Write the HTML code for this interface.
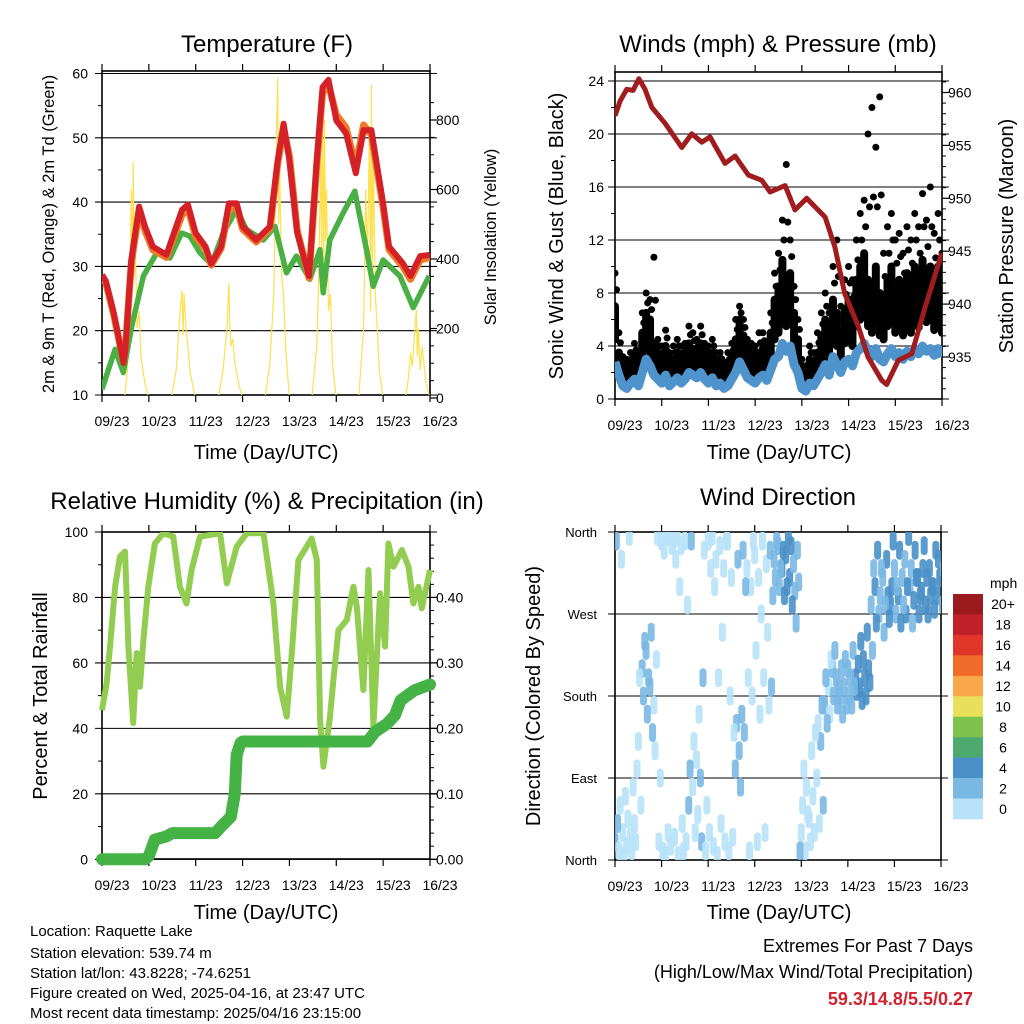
<!DOCTYPE html>
<html><head><meta charset="utf-8"><title>Raquette Lake</title>
<style>
html,body{margin:0;padding:0;background:#fff;}
svg{display:block;font-family:"Liberation Sans",Arial,sans-serif;}
</style></head>
<body>
<svg id="chart" width="1024" height="1024" viewBox="0 0 1024 1024" xmlns="http://www.w3.org/2000/svg">
<rect x="0" y="0" width="1024" height="1024" fill="#fff"/>
<text x="267" y="52" font-size="24" text-anchor="middle">Temperature (F)</text>
<text x="778" y="52" font-size="24" text-anchor="middle">Winds (mph) &amp; Pressure (mb)</text>
<text x="267" y="509" font-size="24" text-anchor="middle">Relative Humidity (%) &amp; Precipitation (in)</text>
<text x="778" y="505" font-size="24" text-anchor="middle">Wind Direction</text>

<text x="266" y="459" font-size="20" text-anchor="middle">Time (Day/UTC)</text>
<text x="779" y="459" font-size="20" text-anchor="middle">Time (Day/UTC)</text>
<text x="266" y="919" font-size="20" text-anchor="middle">Time (Day/UTC)</text>
<text x="779" y="919" font-size="20" text-anchor="middle">Time (Day/UTC)</text>

<text transform="translate(54,234) rotate(-90)" font-size="16.5" text-anchor="middle">2m &amp; 9m T (Red, Orange) &amp; 2m Td (Green)</text>
<text transform="translate(496,237) rotate(-90)" font-size="16.5" text-anchor="middle">Solar Insolation (Yellow)</text>
<text transform="translate(563,236) rotate(-90)" font-size="20" text-anchor="middle">Sonic Wind &amp; Gust (Blue, Black)</text>
<text transform="translate(1013,236) rotate(-90)" font-size="20" text-anchor="middle">Station Pressure (Maroon)</text>
<text transform="translate(47,696) rotate(-90)" font-size="20" text-anchor="middle">Percent &amp; Total Rainfall</text>
<text transform="translate(540,696) rotate(-90)" font-size="20" text-anchor="middle">Direction (Colored By Speed)</text>

<g font-size="15">
<text x="30" y="936">Location: Raquette Lake</text>
<text x="30" y="958">Station elevation: 539.74 m</text>
<text x="30" y="978">Station lat/lon: 43.8228; -74.6251</text>
<text x="30" y="998">Figure created on Wed, 2025-04-16, at 23:47 UTC</text>
<text x="30" y="1018">Most recent data timestamp: 2025/04/16 23:15:00</text>
</g>
<g font-size="18" text-anchor="end">
<text x="973" y="952">Extremes For Past 7 Days</text>
<text x="973" y="978">(High/Low/Max Wind/Total Precipitation)</text>
<text x="973" y="1005" fill="#d02230" font-weight="bold">59.3/14.8/5.5/0.27</text>
</g>
</svg>
<script>
// ---------- data ----------
var dayLabels = ["09/23","10/23","11/23","12/23","13/23","14/23","15/23","16/23"];
var tempTicks = [10,20,30,40,50,60];
var solarTicks = [0,200,400,600,800];
var windTicks = [0,4,8,12,16,20,24];
var presTicks = [935,940,945,950,955,960];
var rhTicks = [0,20,40,60,80,100];
var precTicks = ["0.00","0.10","0.20","0.30","0.40"];
var dirLabels = ["North","East","South","West","North"];
var cbarLabels = ["20+","18","16","14","12","10","8","6","4","2","0"];
var cbarColors = ["#9b1a1e","#c0202a","#e0362a","#f06a2a","#f8a848","#e8e05a","#7cc24c","#4caa6e","#4a90c8","#7ab8e4","#b8e2f8"];

var tempHours = [0,2,6,11,12,15,19,22,26,33,41,44,48,53,56,61,65,69,72,79,86,90,93,96,100,106,110,113,116,120,125,130,134,138,144,147,154,158,163,168];
var tempRed =   [28.7,27.7,22.8,15,17,31,39.3,36.2,33.1,31.8,38.8,39.6,35.2,33.1,30.4,33.1,39.8,39.8,36.2,34.1,36.2,46.5,52.2,46.5,35.2,28.5,46.5,57.9,59,52.7,50.7,44.5,51.2,51.2,39.8,33.1,30.5,28.5,31.6,31.8];
var tempOrange =[28.5,27.4,22.5,15.2,17.4,30.5,38.6,35.6,32.6,31.4,38.0,39.0,34.6,32.7,30.2,32.8,39.0,39.2,35.8,33.8,35.9,46.0,51.4,47.2,35.6,28.2,46.0,57.0,58.2,53.6,51.6,45.6,52.0,50.4,39.2,32.6,30.0,28.0,31.0,31.4];
var dewHours = [0,6.7,10.9,15.2,21.2,28,34.8,40.8,45,50.2,56.1,62.1,68.9,74.1,82.6,88.6,94.5,99.6,106.5,111.6,113.3,116.7,123.5,129.5,135.5,138.9,144,152.6,159.4,167.6];
var dewPoint = [10.9,17.1,13.5,20.7,28.5,32.1,31.3,35.2,34.7,32.1,30.3,35.2,38.8,35.7,34.1,36.2,29,31.6,28,32.6,25.9,34.1,38.3,41.7,32.6,26.9,31,28.5,23.6,28.5];
var solarHours = [0,11.5,13,14,15,15.5,16,16.5,17,18,19,20,22,24,35.5,38,40,41,41.5,42,43,44,45,47,48,59.5,62,64,65,65.5,66,67,68,70,72,83.5,86,88,88.5,89.5,90,90.5,91,92,93,94,96,107.5,110,111,112,112.5,113,113.5,114,114.5,115,116,117,118,120,131.5,134,135,136,137,137.5,138,138.5,139,140,141,142,144,155.5,157,158,159,160,161,161.5,162,163,164,166,168];
var solarVals = [0,0,80,250,600,300,680,350,450,200,250,120,40,0,0,80,250,310,180,300,200,150,80,20,0,0,80,200,330,200,150,170,100,40,0,0,100,300,460,800,923,500,650,350,300,150,0,0,150,350,700,400,880,300,800,450,600,250,300,100,0,0,200,600,400,780,250,900,350,700,300,200,80,0,0,60,130,90,180,255,120,200,80,150,40,0];

var presHours = [0,2.6,6,9.3,12.3,15.4,18.9,25.7,34.3,39.4,44.6,48.8,56.5,61.7,68.5,75.4,79.7,87.4,92.5,98.5,108,113,118,125,130,137,139.6,145.6,152.5,159.3,167.9];
var presVals = [957.8,959.2,960.3,960.2,961.3,960.3,958.6,957.1,954.8,956.1,955.3,955.8,953.3,954,952.2,951.7,950.6,951.2,948.9,950,948.2,945.4,941,937.9,935,932.8,932.4,934.7,935.3,939.7,944.8];
// 2-hourly, hours 0..168
var windMean = [2.8,1.8,1.0,0.8,1.2,1.5,1.0,2.0,3.0,2.5,1.8,1.5,1.2,1.8,1.0,1.3,1.6,1.2,1.5,2.0,1.8,1.6,2.0,1.5,1.2,1.6,1.0,1.2,0.8,1.0,1.5,2.0,2.8,2.2,1.6,1.4,1.2,1.6,1.8,1.4,2.2,3.0,3.2,4.2,3.6,4.0,2.6,2.0,0.8,0.6,1.2,1.0,1.5,2.0,2.6,1.8,3.2,2.6,2.0,2.8,3.0,2.5,3.5,3.8,4.2,3.6,3.2,3.8,3.0,2.8,3.4,3.8,3.2,3.5,3.0,3.6,3.2,3.8,3.4,4.0,3.6,3.8,3.3,3.8,3.2];
var gustLo = [4.5,2.2,1.5,1.2,1.6,2.0,1.6,3.0,4.0,3.5,2.6,2.2,1.8,2.4,1.6,1.8,2.2,1.8,2.0,2.6,2.4,2.2,2.6,2.0,1.8,2.2,1.5,1.6,1.2,1.5,2.0,2.8,3.6,3.0,2.2,2.0,1.8,2.2,2.4,2.0,3.0,4.5,5.0,6.5,5.5,6.0,4.0,2.8,1.2,1.0,1.8,1.5,2.2,3.0,3.8,2.8,4.8,4.0,3.0,4.2,4.5,4.0,5.5,6.0,6.5,5.5,5.0,6.0,4.8,4.5,5.5,6.0,5.0,5.5,4.8,5.6,5.0,6.0,5.4,6.4,5.8,6.0,5.2,6.0,5.0];
var gustMid = [7,3.5,2.4,2.0,2.6,3.2,2.6,5.0,6.5,6.0,4.2,3.5,3.0,4.0,2.6,3.0,3.5,3.0,3.2,4.2,3.8,3.5,4.2,3.2,3.0,3.5,2.5,2.6,2.0,2.5,3.2,4.5,6.0,4.8,3.5,3.2,3.0,3.5,3.8,3.2,5.0,7.5,8.5,10.5,9.0,9.5,6.5,4.5,2.0,1.6,3.0,2.5,3.5,4.8,6.0,4.5,7.5,6.5,5.0,6.8,7.5,6.5,9.0,10.0,11.0,9.0,8.5,10.0,8.0,7.5,9.0,10.0,8.5,9.0,8.0,9.5,8.5,10.0,9.0,10.5,9.5,10.0,8.8,10.0,8.0];
var gustHi = [9.5,5,3.2,3.0,3.5,4.2,3.5,6.5,8.0,7.5,10.7,4.5,4.0,5.2,3.5,4.0,4.5,4.0,4.2,5.5,5.0,4.5,5.5,4.2,4.0,4.5,3.5,3.5,2.8,3.5,4.2,6.0,7.0,6.0,4.5,4.2,4.0,5.0,5.0,4.2,6.5,9.5,11.0,13.5,17.7,12.0,8.5,6.0,3.0,2.5,4.0,3.5,5.0,6.5,8.0,6.5,10.0,12.0,7.0,9.0,10.0,9.0,12.0,14.0,15.0,20.0,22.0,19.0,22.8,11.0,13.0,14.0,12.0,12.5,11.0,13.0,12.0,14.0,13.0,15.5,13.5,16.0,12.5,14.0,11.0];
var dirA = [20,10,30,15,25,40,130,210,230,190,170,355,350,5,358,350,355,345,350,60,80,110,90,340,350,355,330,345,320,350,310,100,120,340,320,300,335,310,350,325,340,330,345,320,335,310,325,340,30,10,45,70,90,130,170,190,210,200,180,190,210,170,200,190,220,250,280,300,270,310,330,280,320,290,310,270,300,285,310,295,280,320,300,290,310];
var dirB = [350,60,5,45,10,20,200,180,160,250,120,20,10,355,15,25,5,40,20,100,130,50,20,10,30,15,5,40,20,10,25,150,80,140,200,180,230,160,200,250,190,310,300,340,300,345,295,305,60,80,20,30,150,170,200,160,180,170,210,220,180,230,185,240,200,210,230,260,290,250,290,300,270,340,280,300,320,340,270,320,310,290,275,330,280];
var dirC = [40,330,70,355,80,100,60,240,200,140,220,90,340,30,345,330,300,10,280,350,30,160,200,60,320,300,200,250,350,180,140,330,160,300,10,350,20,270,30,170,290,350,320,290,355,280,260,10,100,50,120,140,40,60,150,220,230,190,160,170,200,190,215,175,180,195,320,340,320,280,265,350,300,260,330,355,260,310,290,345,270,300,340,310,320];

var rhHours = [0,2.4,4.1,6.7,9.2,11.8,13.5,16,17.7,19.4,21.2,23.7,27.1,31.4,36.5,39.9,43.3,45.9,50.2,60.5,63.9,69,74.1,82.7,87.8,91.2,94.6,97.2,100.6,107.4,110,111.7,113.4,116.8,118.5,121.1,125.4,128.8,130.5,133.9,136.5,139,142.4,145,146.7,149.3,153.6,157,159.5,162.1,163.8,168];
var rhVals = [45.6,53.9,65,83.3,92.5,94,65,41.6,63,52.7,67,83.3,96.5,99.6,98.6,83.3,78.2,88.4,98.6,99.6,84.3,95.5,99.6,99.6,78.2,52.7,43.6,62.9,91.4,98,91.4,42.6,28.3,43.6,54.8,70,73.1,83.3,77.2,51.7,88.4,40.5,81.3,65,96.5,89.4,94.5,89.4,78.2,83.3,76.7,88.4];
var precHours = [0,15,22,24,27,33,36,58,61,66,68,69,71,72,136,140,146,150,153,160,168];
var precVals = [0,0,0,0.005,0.03,0.035,0.04,0.04,0.05,0.065,0.1,0.16,0.178,0.18,0.18,0.195,0.207,0.22,0.243,0.258,0.267];

// ---------- helpers ----------
var NS = "http://www.w3.org/2000/svg";
var svg = document.getElementById("chart");
function mk(tag, attrs, parent) {
  var e = document.createElementNS(NS, tag);
  for (var k in attrs) e.setAttribute(k, attrs[k]);
  (parent || svg).appendChild(e);
  return e;
}
function lin(d0, d1, r0, r1) { return function (v) { return r0 + (v - d0) / (d1 - d0) * (r1 - r0); }; }
function pathFrom(xsArr, ysArr, fx, fy) {
  var d = "";
  for (var i = 0; i < xsArr.length; i++) d += (i ? "L" : "M") + fx(xsArr[i]).toFixed(1) + "," + fy(ysArr[i]).toFixed(1);
  return d;
}
function hours2(n) { var a = []; for (var i = 0; i < n; i++) a.push(i * 2); return a; }

function panelFrame(P, name) {
  var g = mk("g", {});
  
  
  for (var i = 0; i < dayLabels.length; i++) {
    var x = P.x0 + i / 7 * (P.x1 - P.x0);
    mk("line", {x1: x, y1: P.y1, x2: x, y2: P.y1 + 7, stroke: "#000", "stroke-width": 1.2}, g);
    mk("line", {x1: x, y1: P.y0, x2: x, y2: P.y0 - 7, stroke: "#000", "stroke-width": 1.2}, g);
    var t = mk("text", {x: x + 10, y: P.y1 + 31, "font-size": 14, "text-anchor": "middle"}, g);
    
    
    t.textContent = dayLabels[i];
  }
  return g;
}
function hGrid(g, P, y) { mk("line", {x1: P.x0 - 7, y1: y, x2: P.x1 + 7, y2: y, stroke: "#000", "stroke-width": 1.1}, g); }
function box(g, P) { mk("rect", {x: P.x0, y: P.y0, width: P.x1 - P.x0, height: P.y1 - P.y0, fill: "none", stroke: "#000", "stroke-width": 1.6}, g); }
function lab(g, x, y, txt, anchor, size) {
  var t = mk("text", {x: x, y: y, "font-size": size || 14, "text-anchor": anchor}, g);
  
  
  t.textContent = txt;
  return t;
}
function minorR(g, P, ys) { for (var i = 0; i < ys.length; i++) mk("line", {x1: P.x1, y1: ys[i], x2: P.x1 + 4, y2: ys[i], stroke: "#000", "stroke-width": 1}, g); }
function minorL(g, P, ys) { for (var i = 0; i < ys.length; i++) mk("line", {x1: P.x0, y1: ys[i], x2: P.x0 - 4, y2: ys[i], stroke: "#000", "stroke-width": 1}, g); }
function clip(id, P) {
  var defs = mk("defs", {});
  var c = mk("clipPath", {id: id}, defs);
  mk("rect", {x: P.x0, y: P.y0, width: P.x1 - P.x0, height: P.y1 - P.y0}, c);
}

// ---------- panel 1: temperature ----------
(function () {
  var P = {x0: 102, x1: 430, y0: 71, y1: 395};
  var fx = lin(0, 168, P.x0, P.x1), fy = lin(10, 60, 395, 73.5), fs = lin(0, 800, 398, 120);
  clip("c1", P);
  var g = panelFrame(P, "temperature");
  for (var i = 0; i < tempTicks.length; i++) { hGrid(g, P, fy(tempTicks[i])); lab(g, 88, fy(tempTicks[i]) + 5, String(tempTicks[i]), "end"); }
  var ml = []; for (var v = 15; v < 60; v += 10) ml.push(fy(v)); minorL(g, P, ml);
  for (var j = 0; j < solarTicks.length; j++) {
    var y = fs(solarTicks[j]);
    mk("line", {x1: P.x1, y1: y, x2: P.x1 + 7, y2: y, stroke: "#000", "stroke-width": 1.2}, g);
    lab(g, 436, y + 5, String(solarTicks[j]), "start");
  }
  var mr = []; for (var s = 50; s < 900; s += 50) if (s % 200) mr.push(fs(s)); minorR(g, P, mr);
  var d = mk("g", {"clip-path": "url(#c1)"});
  var sol = mk("path", {d: pathFrom(solarHours, solarVals, fx, fs), fill: "none", stroke: "#fde050", "stroke-width": 1.2}, d);
  
  
  var tdl = mk("path", {d: pathFrom(dewHours, dewPoint, fx, fy), fill: "none", stroke: "#4ab043", "stroke-width": 5.5, "stroke-linejoin": "round"}, d);
  
  
  var ol = mk("path", {d: pathFrom(tempHours, tempOrange, fx, fy), fill: "none", stroke: "#f07a28", "stroke-width": 7, "stroke-linejoin": "round"}, d);
  
  
  var rl = mk("path", {d: pathFrom(tempHours, tempRed, fx, fy), fill: "none", stroke: "#d42027", "stroke-width": 6, "stroke-linejoin": "round"}, d);
  
  
  box(g, P);
})();

// ---------- panel 2: winds & pressure ----------
(function () {
  var P = {x0: 615, x1: 942, y0: 72, y1: 399};
  var fx = lin(0, 168, P.x0, P.x1), fy = lin(0, 24, 399, 81), fp = lin(935, 960, 357, 92.5);
  clip("c2", P);
  var g = panelFrame(P, "winds");
  for (var i = 0; i < windTicks.length; i++) { hGrid(g, P, fy(windTicks[i])); lab(g, 604, fy(windTicks[i]) + 5, String(windTicks[i]), "end"); }
  var ml = []; for (var v = 2; v < 25; v += 4) ml.push(fy(v)); minorL(g, P, ml);
  for (var j = 0; j < presTicks.length; j++) {
    var y = fp(presTicks[j]);
    mk("line", {x1: P.x1, y1: y, x2: P.x1 + 7, y2: y, stroke: "#000", "stroke-width": 1.2}, g);
    lab(g, 948, y + 5, String(presTicks[j]), "start");
  }
  var mr = []; for (var p = 932; p <= 961; p++) if (p % 5) mr.push(fp(p)); minorR(g, P, mr);
  var hrs = hours2(windMean.length);
  var d = mk("g", {"clip-path": "url(#c2)"});
  for (var k = 0; k < hrs.length; k++) {
    var x = fx(hrs[k]);
    var bar = mk("line", {x1: x, y1: fy(gustLo[k]), x2: x, y2: fy(gustMid[k]), stroke: "#000", "stroke-width": 8, "stroke-linecap": "round"}, d);
    
    
    var c1 = mk("circle", {cx: x, cy: fy(gustHi[k]), r: 3.5, fill: "#000"}, d);
    
    
    var c2 = mk("circle", {cx: x + 1.5, cy: fy((gustMid[k] + gustHi[k]) / 2), r: 3.5, fill: "#000"}, d);
    
    
  }
  var bl = mk("path", {d: pathFrom(hrs, windMean, fx, fy), fill: "none", stroke: "#4f93cc", "stroke-width": 9, "stroke-linejoin": "round"}, d);
  
  
  var pl = mk("path", {d: pathFrom(presHours, presVals, fx, fp), fill: "none", stroke: "#a01c1e", "stroke-width": 5, "stroke-linejoin": "round"}, d);
  
  
  box(g, P);
})();

// ---------- panel 3: RH & precipitation ----------
(function () {
  var P = {x0: 102, x1: 430, y0: 532, y1: 859};
  var fx = lin(0, 168, P.x0, P.x1), fy = lin(0, 100, 859.3, 532), fq = lin(0, 0.5, 859.3, 532);
  clip("c3", {x0: 95, x1: 437, y0: 532, y1: 866});
  var g = panelFrame(P, "humidity");
  for (var i = 0; i < rhTicks.length; i++) { hGrid(g, P, fy(rhTicks[i])); lab(g, 88, fy(rhTicks[i]) + 5, String(rhTicks[i]), "end"); }
  var ml = []; for (var v = 10; v < 100; v += 20) ml.push(fy(v)); minorL(g, P, ml);
  for (var j = 0; j < precTicks.length; j++) {
    var y = fq(parseFloat(precTicks[j]));
    mk("line", {x1: P.x1, y1: y, x2: P.x1 + 7, y2: y, stroke: "#000", "stroke-width": 1.2}, g);
    lab(g, 436, y + 5, precTicks[j], "start");
  }
  var mr = []; for (var q = 0.02; q < 0.5; q += 0.02) mr.push(fq(q)); minorR(g, P, mr);
  var d = mk("g", {"clip-path": "url(#c3)"});
  var rl = mk("path", {d: pathFrom(rhHours, rhVals, fx, fy), fill: "none", stroke: "#92cc50", "stroke-width": 6, "stroke-linejoin": "round"}, d);
  
  
  var pl = mk("path", {d: pathFrom(precHours, precVals, fx, fq), fill: "none", stroke: "#44b244", "stroke-width": 12, "stroke-linejoin": "round", "stroke-linecap": "round"}, d);
  
  
  box(g, P);
})();

// ---------- panel 4: wind direction ----------
(function () {
  var P = {x0: 615, x1: 941, y0: 532, y1: 860};
  var fx = lin(0, 168, P.x0, P.x1), fy = lin(0, 360, 860, 532);
  clip("c4", P);
  var g = panelFrame(P, "wind-direction");
  for (var i = 0; i < dirLabels.length; i++) { var y = fy(i * 90); hGrid(g, P, y); lab(g, 597, y + 5, dirLabels[i], "end", 13); }
  var hrs = hours2(windMean.length);
  var d = mk("g", {"clip-path": "url(#c4)"});
  function col(v) { return v >= 3.3 ? "#4a90c8" : (v >= 2 ? "#7ab8e4" : "#b8e2f8"); }
  var sets = [dirA, dirB, dirC];
  for (var s = 0; s < sets.length; s++) {
    for (var k = 0; k < hrs.length; k++) {
      var cx = fx(hrs[k]) + s * 1.3, cy = fy(sets[s][k]);
      var c = mk("line", {x1: cx, y1: cy - 6, x2: cx, y2: cy + 6, stroke: col(windMean[k]), "stroke-width": 7, "stroke-linecap": "round", "stroke-opacity": 0.9}, d);
      
      
    }
  }
  box(g, P);
  var cb = mk("g", {});
  
  
  var t = mk("text", {x: 990, y: 588, "font-size": 14}, cb);
  t.textContent = "mph";
  var h = (819 - 594) / cbarColors.length;
  for (var m = 0; m < cbarColors.length; m++) {
    var r = mk("rect", {x: 953, y: 594 + m * h, width: 30, height: h + 0.3, fill: cbarColors[m]}, cb);
    
    
    var tl = mk("text", {x: 1003, y: 594 + m * h + h / 2 + 5, "font-size": 14, "text-anchor": "middle"}, cb);
    tl.textContent = cbarLabels[m];
  }
})();
</script>
</body></html>
